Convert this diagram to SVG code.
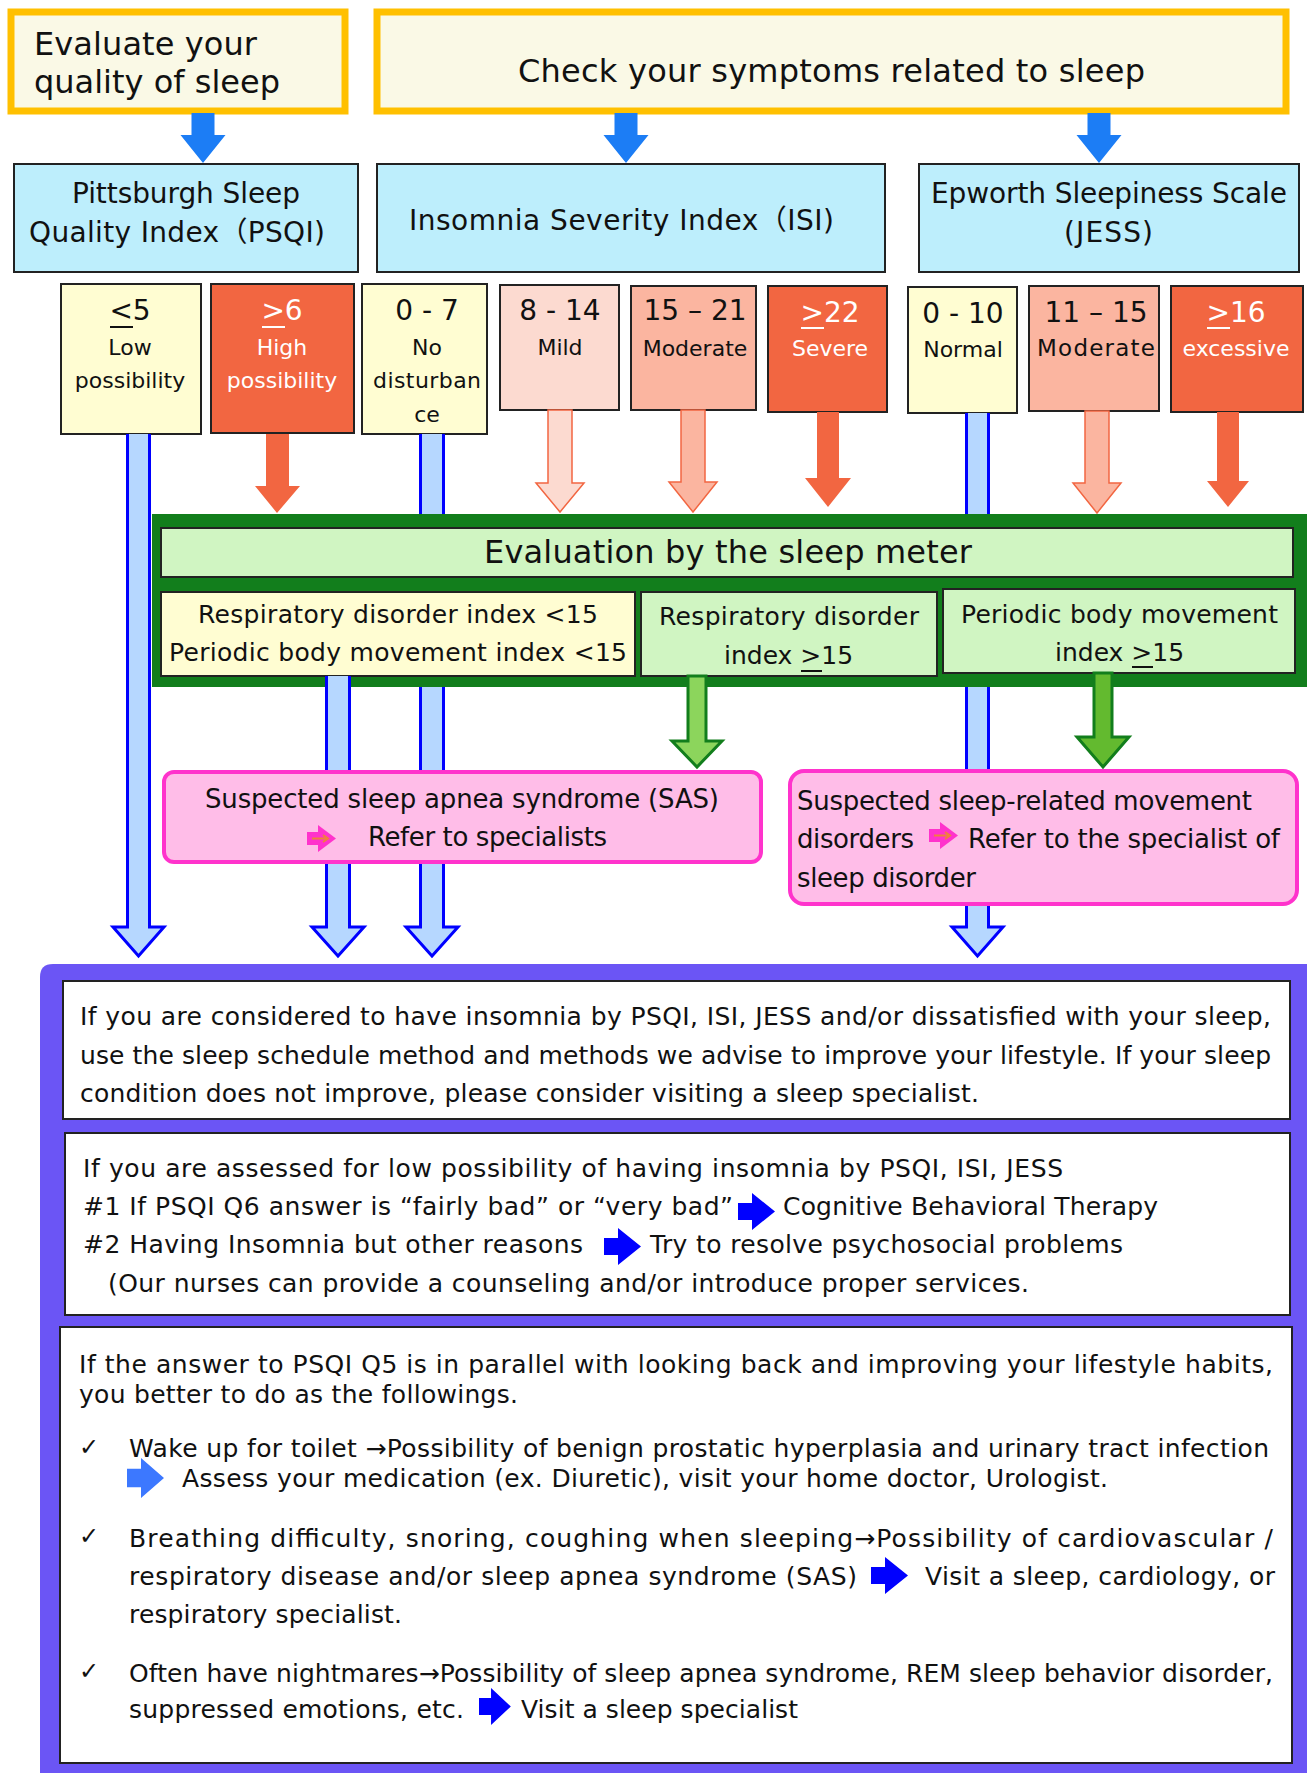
<svg xmlns="http://www.w3.org/2000/svg" xmlns:xlink="http://www.w3.org/1999/xlink" width="1307" height="1773" viewBox="0 0 1307 1773">
<style>
text{font-family:"DejaVu Sans","Noto Sans CJK JP",sans-serif;fill:#111}
.c{text-anchor:middle}
.w{fill:#fff}
.bx{stroke:#222;stroke-width:2}
.ul{stroke:#111;stroke-width:2}
.ulw{stroke:#fff;stroke-width:2}
.hb{fill:#B6D7FF;stroke:#0000FF;stroke-width:3}
.hbs{fill:none;stroke:#0000FF;stroke-width:3}
.hf{fill:#B6D7FF;stroke:none}
.sb{fill:#1C7DF5}
.so{fill:#F26641}
.oo{stroke:#F26641;stroke-width:1.5}
.gr{stroke:#127E1C;stroke-width:3}
.pk{fill:#FFBDE8;stroke:#FF33CC;stroke-width:4}
.wb{fill:#fff;stroke:#222;stroke-width:2}
.bt{font-size:25px}
.ck{font-size:24px}
</style>
<defs>
<path id="bar" d="M0,10 H14 V0 L37,18.5 L14,37 V27 H0 Z"/>
<g id="pkar"><path d="M0,7 H11 V0 L29,13.5 L11,27 V20 H0 Z" fill="#FF33CC"/><path d="M5,13.5 H20 M16,10 L21,13.5 L16,17" fill="none" stroke="#F0803C" stroke-width="2"/></g>
</defs>
<rect width="1307" height="1773" fill="#fff"/>

<g id="node-evaluate">
<rect x="11" y="12" width="334" height="99" fill="#FAF9E6" stroke="#FFC000" stroke-width="7"/>
<text x="34" y="55" font-size="32" textLength="223">Evaluate your</text>
<text x="34" y="93" font-size="32" textLength="246">quality of sleep</text>
</g>
<g id="node-check">
<rect x="377" y="12" width="909" height="99" fill="#FAF9E6" stroke="#FFC000" stroke-width="7"/>
<text x="518" y="82" font-size="32" textLength="627">Check your symptoms related to sleep</text>
</g>

<g id="node-psqi">
<rect class="bx" x="14" y="164" width="344" height="108" fill="#BDEEFC"/>
<text x="72" y="203" font-size="28" textLength="228">Pittsburgh Sleep</text>
<text x="29" y="242" font-size="28" textLength="296">Quality Index（PSQI)</text>
</g>
<g id="node-isi">
<rect class="bx" x="377" y="164" width="508" height="108" fill="#BDEEFC"/>
<text x="409" y="230" font-size="28" textLength="425">Insomnia Severity Index（ISI)</text>
</g>
<g id="node-jess">
<rect class="bx" x="919" y="164" width="380" height="108" fill="#BDEEFC"/>
<text x="931" y="203" font-size="28" textLength="356">Epworth Sleepiness Scale</text>
<text x="1064" y="242" font-size="28" textLength="89">(JESS)</text>
</g>

<g id="node-psqi-low">
<rect class="bx" x="61" y="284" width="140" height="150" fill="#FFFDD2"/>
<text x="109.4" y="320" font-size="28">&lt;5</text>
<line class="ul" x1="110" y1="327" x2="133" y2="327"/>
<text class="c" x="130" y="355" font-size="22">Low</text>
<text class="c" x="130" y="388" font-size="22">possibility</text>
</g>
<g id="node-psqi-high">
<rect class="bx" x="211" y="284" width="143" height="149" fill="#F26641"/>
<text class="w" x="261.4" y="320" font-size="28">&gt;6</text>
<line class="ulw" x1="262" y1="327" x2="285" y2="327"/>
<text class="c w" x="282" y="355" font-size="22">High</text>
<text class="c w" x="282" y="388" font-size="22">possibility</text>
</g>
<g id="node-isi-0-7">
<rect class="bx" x="362" y="284" width="125" height="150" fill="#FFFDD2"/>
<text class="c" x="427" y="320" font-size="28">0 - 7</text>
<text class="c" x="427" y="355" font-size="22">No</text>
<text class="c" x="427" y="388" font-size="22" textLength="108">disturban</text>
<text class="c" x="427" y="422" font-size="22">ce</text>
</g>
<g id="node-isi-8-14">
<rect class="bx" x="500" y="285" width="119" height="125" fill="#FCDAD0"/>
<text class="c" x="560" y="320" font-size="28">8 - 14</text>
<text class="c" x="560" y="355" font-size="22">Mild</text>
</g>
<g id="node-isi-15-21">
<rect class="bx" x="631" y="286" width="125" height="124" fill="#FBB5A0"/>
<text class="c" x="695" y="320" font-size="28">15 – 21</text>
<text class="c" x="695" y="356" font-size="22">Moderate</text>
</g>
<g id="node-isi-22">
<rect class="bx" x="768" y="286" width="119" height="126" fill="#F26641"/>
<text class="w" x="800.5" y="322" font-size="28">&gt;22</text>
<line class="ulw" x1="801" y1="328" x2="824" y2="328"/>
<text class="c w" x="830" y="356" font-size="22">Severe</text>
</g>
<g id="node-jess-0-10">
<rect class="bx" x="908" y="287" width="109" height="126" fill="#FFFDD2"/>
<text class="c" x="963" y="323" font-size="28">0 - 10</text>
<text class="c" x="963" y="357" font-size="22">Normal</text>
</g>
<g id="node-jess-11-15">
<rect class="bx" x="1029" y="286" width="130" height="125" fill="#FBB5A0"/>
<text class="c" x="1096" y="322" font-size="28">11 – 15</text>
<text class="c" x="1096" y="356" font-size="23" textLength="118">Moderate</text>
</g>
<g id="node-jess-16">
<rect class="bx" x="1171" y="286" width="132" height="126" fill="#F26641"/>
<text class="w" x="1206.5" y="322" font-size="28">&gt;16</text>
<line class="ulw" x1="1207" y1="328" x2="1230" y2="328"/>
<text class="c w" x="1236" y="356" font-size="22">excessive</text>
</g>

<g id="node-sleep-meter">
<rect x="152" y="514" width="1160" height="173" fill="#127E1C"/>
<rect class="bx" x="161" y="528" width="1132" height="49" fill="#D0F5C2"/>
<text x="484" y="563" font-size="32" textLength="488">Evaluation by the sleep meter</text>
</g>
<g id="node-normal-index">
<rect class="bx" x="161" y="592" width="474" height="84" fill="#FFFDD2"/>
<text x="198" y="623" font-size="25" textLength="400">Respiratory disorder index &lt;15</text>
<text x="169" y="661" font-size="25" textLength="458">Periodic body movement index &lt;15</text>
</g>
<g id="node-resp-index">
<rect class="bx" x="641" y="592" width="296" height="84" fill="#D0F5C2"/>
<text x="659" y="625" font-size="25" textLength="260">Respiratory disorder</text>
<text x="724" y="664" font-size="25">index &gt;15</text>
<line class="ul" x1="801" y1="671" x2="822" y2="671"/>
</g>
<g id="node-pbm-index">
<rect class="bx" x="943" y="589" width="352" height="84" fill="#D0F5C2"/>
<text x="961" y="623" font-size="25" textLength="317">Periodic body movement</text>
<text x="1055" y="661" font-size="25">index &gt;15</text>
<line class="ul" x1="1132" y1="667" x2="1153" y2="667"/>
</g>

<g id="connectors">
<polygon class="sb" points="191.5,113 214.5,113 214.5,135 225.5,135 203,163 180.5,135 191.5,135"/>
<polygon class="sb" points="614.5,113 637.5,113 637.5,135 648.5,135 626,163 603.5,135 614.5,135"/>
<polygon class="sb" points="1087.5,113 1110.5,113 1110.5,135 1121.5,135 1099,163 1076.5,135 1087.5,135"/>

<polygon class="so" points="266,434 289,434 289,486 300,486 277,513 255,486 266,486"/>
<polygon class="oo" fill="#FCDAD0" points="548,410 572,410 572,483 584,483 560,512 536,483 548,483"/>
<polygon class="oo" fill="#FBB5A0" points="681,410 705,410 705,482 717,482 693,512 669,482 681,482"/>
<polygon class="so" points="817,412 839,412 839,478 851,478 828,507 805,478 817,478"/>
<polygon class="oo" fill="#FBB5A0" points="1085,411 1109,411 1109,483 1121,483 1097,513 1073,483 1085,483"/>
<polygon class="so" points="1217,412 1239,412 1239,481 1249,481 1228,507 1207,481 1217,481"/>

<path class="hb" d="M127.5,434 V927 H113 L138.5,956 L164,927 H149.5 V434"/>
<rect class="hf" x="420.5" y="434" width="23" height="80"/>
<path class="hbs" d="M420.5,434 V514 M443.5,434 V514"/>
<path class="hb" d="M420.5,687 V927 H406 L432,956 L458,927 H443.5 V687"/>
<path class="hb" d="M326.5,676 V927 H312 L338,956 L364,927 H349.5 V676"/>
<rect class="hf" x="966.5" y="413" width="22" height="101"/>
<path class="hbs" d="M966.5,413 V514 M988.5,413 V514"/>
<path class="hb" d="M966.5,687 V927 H952 L977.5,956 L1003,927 H988.5 V687"/>

<polygon class="gr" fill="#8CD55C" points="688,676 706,676 706,741 722,741 697,767 672,741 688,741"/>
<polygon class="gr" fill="#63BA2F" points="1094,673 1112,673 1112,737 1129,737 1103,767 1077,737 1094,737"/>
</g>

<g id="node-sas">
<rect class="pk" x="164" y="772" width="597" height="90" rx="10"/>
<text x="205" y="808" font-size="26" textLength="514">Suspected sleep apnea syndrome (SAS)</text>
<use xlink:href="#pkar" x="307" y="825"/>
<text x="368" y="846" font-size="26" textLength="239">Refer to specialists</text>
</g>
<g id="node-movement">
<rect class="pk" x="790" y="771" width="507" height="133" rx="14"/>
<text x="797" y="810" font-size="26" textLength="455">Suspected sleep-related movement</text>
<text x="797" y="848" font-size="26" textLength="117">disorders</text>
<use xlink:href="#pkar" x="929" y="822"/>
<text x="968" y="848" font-size="26" textLength="312">Refer to the specialist of</text>
<text x="797" y="887" font-size="26" textLength="179">sleep disorder</text>
</g>

<g id="node-advice">
<path d="M40,1790 V977 Q40,964 53,964 H1320 V1790 Z" fill="#6B55F5"/>
</g>
<g id="node-advice-1">
<rect class="wb" x="63" y="981" width="1227" height="138"/>
<text class="bt" x="80" y="1025" textLength="1191">If you are considered to have insomnia by PSQI, ISI, JESS and/or dissatisfied with your sleep,</text>
<text class="bt" x="80" y="1064" textLength="1191">use the sleep schedule method and methods we advise to improve your lifestyle. If your sleep</text>
<text class="bt" x="80" y="1102" textLength="899">condition does not improve, please consider visiting a sleep specialist.</text>
</g>
<g id="node-advice-2">
<rect class="wb" x="65" y="1133" width="1225" height="182"/>
<text class="bt" x="83" y="1177" textLength="980">If you are assessed for low possibility of having insomnia by PSQI, ISI, JESS</text>
<text class="bt" x="83" y="1215" textLength="650">#1 If PSQI Q6 answer is “fairly bad” or “very bad”</text>
<use xlink:href="#bar" x="738" y="1193" fill="#0000FF"/>
<text class="bt" x="783" y="1215" textLength="375">Cognitive Behavioral Therapy</text>
<text class="bt" x="83" y="1253" textLength="500">#2 Having Insomnia but other reasons</text>
<use xlink:href="#bar" x="604" y="1228" fill="#0000FF"/>
<text class="bt" x="650" y="1253" textLength="473">Try to resolve psychosocial problems</text>
<text class="bt" x="108" y="1292" textLength="921">(Our nurses can provide a counseling and/or introduce proper services.</text>
</g>
<g id="node-advice-3">
<rect class="wb" x="60" y="1327" width="1232" height="436"/>
<text class="bt" x="79" y="1373" textLength="1194">If the answer to PSQI Q5 is in parallel with looking back and improving your lifestyle habits,</text>
<text class="bt" x="79" y="1403" textLength="439">you better to do as the followings.</text>
<text class="ck" x="79" y="1455">✓</text>
<text class="bt" x="129" y="1457" textLength="1140">Wake up for toilet →Possibility of benign prostatic hyperplasia and urinary tract infection</text>
<use xlink:href="#bar" x="127" y="1458" fill="#3C78FF" transform="translate(127 1458) scale(1 1.08) translate(-127 -1458)"/>
<text class="bt" x="182" y="1487" textLength="926">Assess your medication (ex. Diuretic), visit your home doctor, Urologist.</text>
<text class="ck" x="79" y="1544">✓</text>
<text class="bt" x="129" y="1547" textLength="1144">Breathing difficulty, snoring, coughing when sleeping→Possibility of cardiovascular /</text>
<text class="bt" x="129" y="1585" textLength="728">respiratory disease and/or sleep apnea syndrome (SAS)</text>
<use xlink:href="#bar" x="871" y="1557" fill="#0000FF"/>
<text class="bt" x="925" y="1585" textLength="350">Visit a sleep, cardiology, or</text>
<text class="bt" x="129" y="1623" textLength="273">respiratory specialist.</text>
<text class="ck" x="79" y="1679">✓</text>
<text class="bt" x="129" y="1682" textLength="1144">Often have nightmares→Possibility of sleep apnea syndrome, REM sleep behavior disorder,</text>
<text class="bt" x="129" y="1718" textLength="335">suppressed emotions, etc.</text>
<use xlink:href="#bar" x="479" y="1688" fill="#0000FF" transform="translate(479 1688) scale(0.86 1) translate(-479 -1688)"/>
<text class="bt" x="521" y="1718" textLength="277">Visit a sleep specialist</text>
</g>
</svg>
